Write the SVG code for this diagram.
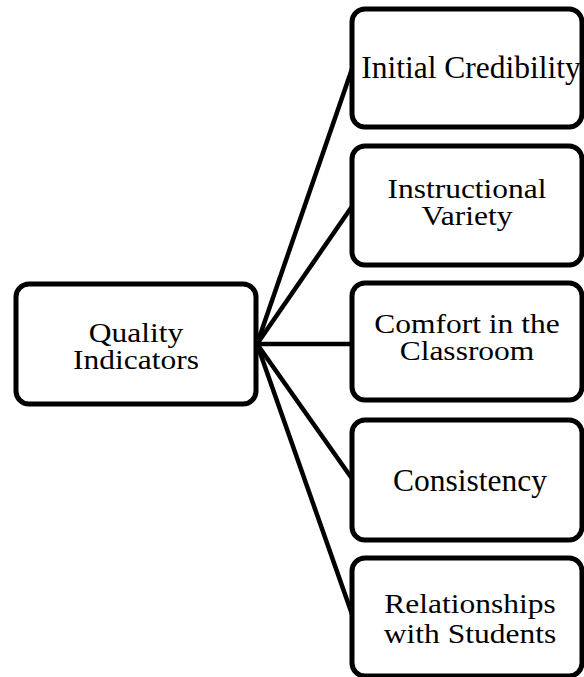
<svg xmlns="http://www.w3.org/2000/svg" width="584" height="677" viewBox="0 0 584 677">
  <style>
    .box { fill: #ffffff; stroke: #000000; stroke-width: 5; }
    .link { stroke: #000000; stroke-width: 4.5; fill: none; }
    .label { font-family: "Liberation Serif", "Times New Roman", Times, serif; font-size: 31.5px; fill: #000000; text-anchor: middle; }
  </style>
  <rect width="584" height="677" fill="#ffffff"/>

  <!-- connectors from the hub to each indicator -->
  <g id="connectors">
    <line class="link" x1="257" y1="344" x2="353" y2="66"/>
    <line class="link" x1="257" y1="344" x2="353" y2="205"/>
    <line class="link" x1="257" y1="344" x2="353" y2="344"/>
    <line class="link" x1="257" y1="344" x2="353" y2="480"/>
    <line class="link" x1="257" y1="344" x2="353" y2="617"/>
  </g>

  <!-- two-line labels are squeezed vertically to fit the boxes -->
  <g id="quality-indicators">
    <rect class="box" x="16" y="284" width="240" height="120" rx="13"/>
    <text class="label" transform="translate(136,342) scale(1,0.88)">Quality</text>
    <text class="label" transform="translate(136,369) scale(1,0.88)">Indicators</text>
  </g>

  <g id="initial-credibility">
    <rect class="box" x="352" y="9" width="230" height="118" rx="13"/>
    <text class="label" x="471" y="78">Initial Credibility</text>
  </g>

  <g id="instructional-variety">
    <rect class="box" x="352" y="146" width="230" height="119" rx="13"/>
    <text class="label" transform="translate(467,198) scale(1,0.88)">Instructional</text>
    <text class="label" transform="translate(467,225) scale(1,0.88)">Variety</text>
  </g>

  <g id="comfort-in-the-classroom">
    <rect class="box" x="352" y="283" width="230" height="117" rx="13"/>
    <text class="label" transform="translate(467,333) scale(1,0.88)">Comfort in the</text>
    <text class="label" transform="translate(467,360) scale(1,0.88)">Classroom</text>
  </g>

  <g id="consistency">
    <rect class="box" x="352" y="420" width="230" height="120" rx="13"/>
    <text class="label" x="470" y="491">Consistency</text>
  </g>

  <g id="relationships-with-students">
    <rect class="box" x="352" y="558" width="230" height="118" rx="13"/>
    <text class="label" transform="translate(470,613) scale(1,0.88)">Relationships</text>
    <text class="label" transform="translate(470,643) scale(1,0.88)">with Students</text>
  </g>
</svg>
